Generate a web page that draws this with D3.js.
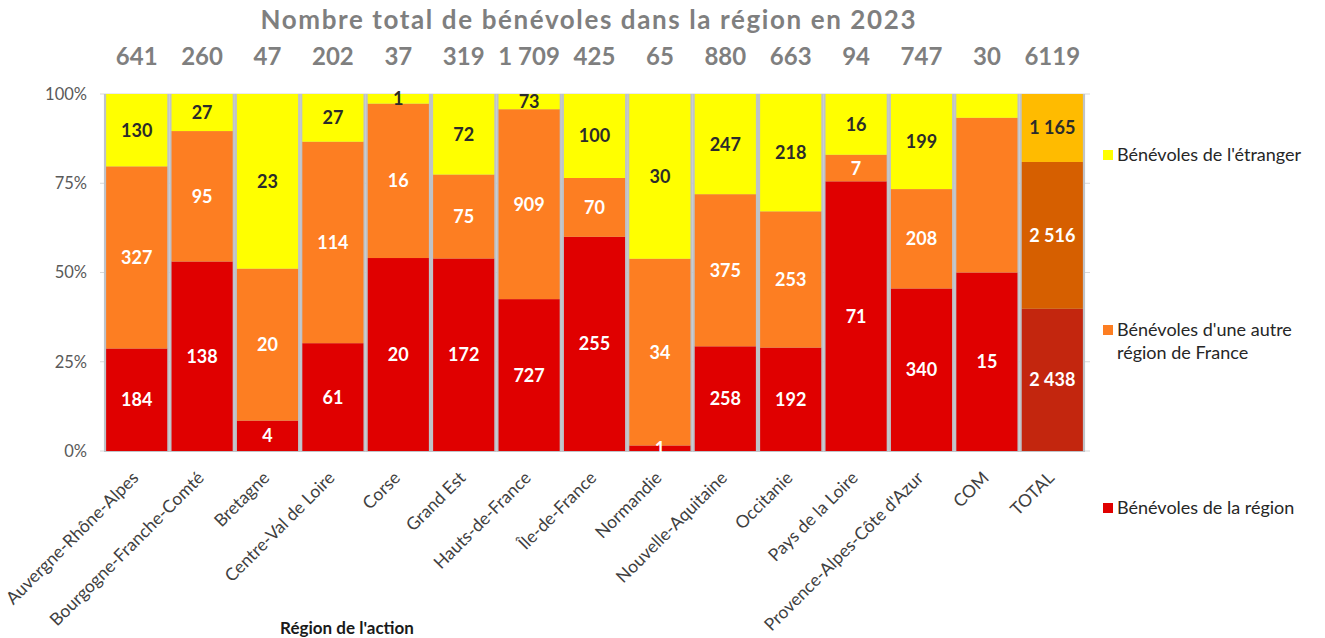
<!DOCTYPE html>
<html>
<head>
<meta charset="utf-8">
<script src="https://cdn.jsdelivr.net/npm/d3@7"></script>
<style>
  body { margin: 0; background: #fff; }
  svg { font-family: Lato, "Open Sans", sans-serif; }
</style>
</head>
<body>
<svg id="chart" width="1325" height="638"></svg>
<script>
// regions (x axis)
var regions = ["Auvergne-Rhône-Alpes", "Bourgogne-Franche-Comté", "Bretagne", "Centre-Val de Loire",
  "Corse", "Grand Est", "Hauts-de-France", "Île-de-France", "Normandie", "Nouvelle-Aquitaine",
  "Occitanie", "Pays de la Loire", "Provence-Alpes-Côte d'Azur", "COM", "TOTAL"];

// series values (number of volunteers)
var regionVals   = [184, 138, 4, 61, 20, 172, 727, 255, 1, 258, 192, 71, 340, 15, 2438];
var autreVals    = [327, 95, 20, 114, 16, 75, 909, 70, 34, 375, 253, 7, 208, 13, 2516];
var etrangerVals = [130, 27, 23, 27, 1, 72, 73, 100, 30, 247, 218, 16, 199, 2, 1165];

// totals shown above bars
var totalLabels = ["641", "260", "47", "202", "37", "319", "1 709", "425", "65", "880", "663", "94", "747", "30", "6119"];

// labels not displayed in the original
var hidden = { "COM-autre": true, "COM-etranger": true };

var yTicks = [0, 0.25, 0.5, 0.75, 1];

var series = [
  { key: "region", name: ["Bénévoles de la région"], vals: regionVals, color: "#e00000", totalColor: "#c3260e", text: "#fff" },
  { key: "autre", name: ["Bénévoles d'une autre", "région de France"], vals: autreVals, color: "#fd7e22", totalColor: "#d65f00", text: "#fff" },
  { key: "etranger", name: ["Bénévoles de l'étranger"], vals: etrangerVals, color: "#ffff00", totalColor: "#ffbb00", text: "#2b2b2b" }
];

var fmt = function (v) { return d3.format(",")(v).replace(/,/g, " "); };

var svg = d3.select("#chart");

var x = d3.scaleBand()
  .domain(regions)
  .range([104, 1085])
  .paddingInner(0.065)
  .paddingOuter(0.0325);

var y = d3.scaleLinear().domain([0, 1]).range([451, 94]);

// gridlines
svg.append("g").selectAll("line")
  .data(yTicks)
  .enter().append("line")
  .attr("x1", 100).attr("x2", 1090)
  .attr("y1", function (d) { return y(d); })
  .attr("y2", function (d) { return y(d); })
  .attr("stroke", "#d9d9d9").attr("stroke-width", 1);

// y axis labels
svg.append("g").selectAll("text")
  .data(yTicks)
  .enter().append("text")
  .attr("x", 87).attr("y", function (d) { return y(d); })
  .attr("dy", "0.35em")
  .attr("text-anchor", "end")
  .attr("font-size", 16.5)
  .attr("fill", "#595959")
  .text(function (d) { return Math.round(d * 100) + "%"; });

// build stacked rows
var rows = regions.map(function (r, i) {
  var tot = regionVals[i] + autreVals[i] + etrangerVals[i];
  var acc = 0;
  var segs = series.map(function (s) {
    var v = s.vals[i];
    var seg = { region: r, key: s.key, v: v, y0: acc / tot, y1: (acc + v) / tot, s: s };
    acc += v;
    return seg;
  });
  return { region: r, segs: segs };
});

var bars = svg.append("g").selectAll("g")
  .data(rows)
  .enter().append("g");

// grey shadow between bars
bars.append("rect")
  .attr("x", function (d) { return x(d.region) - 2.2; })
  .attr("width", x.bandwidth() + 4.4)
  .attr("y", y(1))
  .attr("height", y(0) - y(1) + 1)
  .attr("fill", "#bfc3c8");

bars.selectAll("rect.seg")
  .data(function (d) { return d.segs; })
  .enter().append("rect")
  .attr("class", "seg")
  .attr("x", function (d) { return x(d.region); })
  .attr("width", x.bandwidth())
  .attr("y", function (d) { return y(d.y1); })
  .attr("height", function (d) { return y(d.y0) - y(d.y1); })
  .attr("fill", function (d) { return d.region === "TOTAL" ? d.s.totalColor : d.s.color; });

bars.selectAll("text.lbl")
  .data(function (d) { return d.segs.filter(function (s) { return !hidden[s.region + "-" + s.key]; }); })
  .enter().append("text")
  .attr("class", "lbl")
  .attr("x", function (d) { return x(d.region) + x.bandwidth() / 2; })
  .attr("y", function (d) { return y((d.y0 + d.y1) / 2); })
  .attr("dy", "0.36em")
  .attr("text-anchor", "middle")
  .attr("font-size", 18)
  .attr("font-weight", "bold")
  .attr("fill", function (d) { return d.s.text; })
  .text(function (d) { return fmt(d.v); });

// totals row
svg.append("g").selectAll("text")
  .data(regions)
  .enter().append("text")
  .attr("x", function (d) { return x(d) + x.bandwidth() / 2; })
  .attr("y", 65)
  .attr("text-anchor", "middle")
  .attr("font-size", 24)
  .attr("font-weight", "bold")
  .attr("fill", "#7f7f7f")
  .text(function (d, i) { return totalLabels[i]; });

// title
svg.append("text")
  .attr("x", 588).attr("y", 29)
  .attr("text-anchor", "middle")
  .attr("font-size", 26)
  .attr("font-weight", "bold")
  .attr("fill", "#7f7f7f")
  .attr("textLength", 655)
  .attr("lengthAdjust", "spacing")
  .text("Nombre total de bénévoles dans la région en 2023");

// x labels
svg.append("g").selectAll("text")
  .data(regions)
  .enter().append("text")
  .attr("transform", function (d) {
    return "translate(" + (x(d) + x.bandwidth() / 2 + 3) + ",479) rotate(-45)";
  })
  .attr("text-anchor", "end")
  .attr("font-size", 17.5)
  .attr("fill", "#404040")
  .text(function (d) { return d; });

svg.append("text")
  .attr("x", 347).attr("y", 634)
  .attr("text-anchor", "middle")
  .attr("font-size", 17)
  .attr("font-weight", "bold")
  .attr("fill", "#1a1a1a")
  .text("Région de l'action");

// legend
var legendY = { etranger: 155, autre: 330, region: 508 };
var leg = svg.append("g").selectAll("g")
  .data(series)
  .enter().append("g")
  .attr("transform", function (d) { return "translate(1103," + legendY[d.key] + ")"; });

leg.append("rect")
  .attr("x", 0).attr("y", -5)
  .attr("width", 10).attr("height", 10)
  .attr("fill", function (d) { return d.color; });

leg.append("text")
  .attr("x", 14)
  .attr("font-size", 18)
  .attr("fill", "#262626")
  .selectAll("tspan")
  .data(function (d) { return d.name; })
  .enter().append("tspan")
  .attr("x", 14)
  .attr("y", function (d, i) { return i * 23; })
  .attr("dy", "0.35em")
  .text(function (d) { return d; });
</script>
</body>
</html>
